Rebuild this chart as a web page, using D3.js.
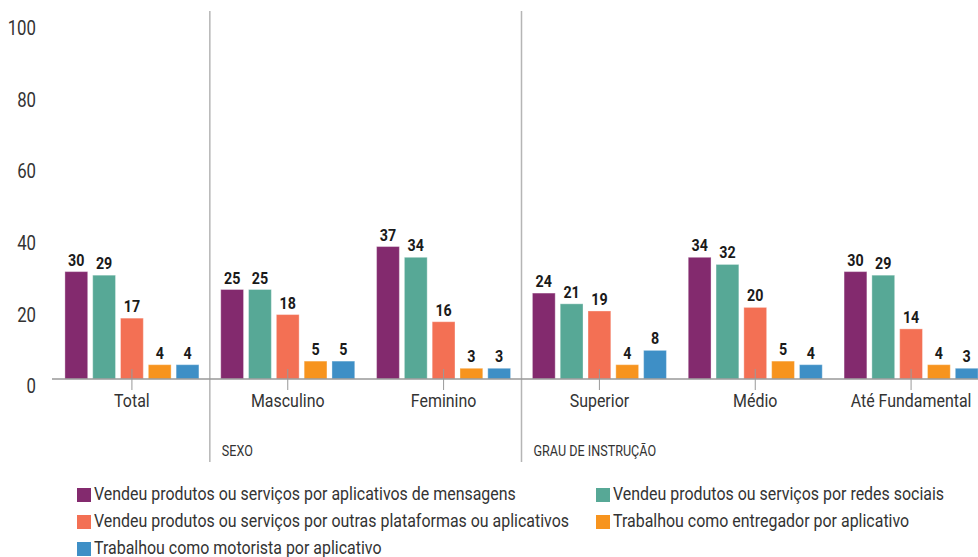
<!DOCTYPE html>
<html>
<head>
<meta charset="utf-8">
<script src="https://cdn.jsdelivr.net/npm/d3@7"></script>
<style>
  html, body { margin: 0; padding: 0; background: #fff; }
  svg { display: block; font-family: Roboto, "DejaVu Sans Condensed", sans-serif; }
</style>
</head>
<body>
<svg id="chart" width="978" height="557"></svg>
<script>
// Categories along the x axis
const categories = ["Total", "Masculino", "Feminino", "Superior", "Médio", "Até Fundamental"];

// Series names (legend order)
const seriesNames = [
  "Vendeu produtos ou serviços por aplicativos de mensagens",
  "Vendeu produtos ou serviços por redes sociais",
  "Vendeu produtos ou serviços por outras plataformas ou aplicativos",
  "Trabalhou como entregador por aplicativo",
  "Trabalhou como motorista por aplicativo"
];

// Values per series, one per category (%)
const mensagens    = [30, 25, 37, 24, 34, 30];
const redesSociais = [29, 25, 34, 21, 32, 29];
const outras       = [17, 18, 16, 19, 20, 14];
const entregador   = [4, 5, 3, 4, 5, 4];
const motorista    = [4, 5, 3, 8, 4, 3];

const seriesValues = [mensagens, redesSociais, outras, entregador, motorista];
const seriesColors = ["#832a6e", "#57a896", "#f37054", "#f7941e", "#3e8fc6"];

const yTicks = [0, 20, 40, 60, 80, 100];

// Category groups: label and first category index
const groups = [
  { label: "SEXO", start: 1 },
  { label: "GRAU DE INSTRUÇÃO", start: 3 }
];

// Horizontal condensing applied to every text, giving a narrow typeface look
const CONDENSE = 0.84;

const svg = d3.select("#chart");

// Places a condensed text at (x, y)
function placeText(sel, xf, yf) {
  sel.attr("x", 0).attr("y", 0)
    .attr("transform", (d, i) => `translate(${xf(d, i)},${yf(d, i)}) scale(${CONDENSE},1)`);
  return sel;
}

const x0 = d3.scaleBand()
  .domain(categories)
  .range([54, 989])
  .paddingInner(0.14)
  .paddingOuter(0.07);

const x1 = d3.scaleBand()
  .domain(d3.range(seriesNames.length))
  .range([0, x0.bandwidth()])
  .paddingInner(0.18);

const y = d3.scaleLinear().domain([0, 100]).range([379, 21]);

// Y axis labels (no line)
svg.append("g")
  .selectAll("text")
  .data(yTicks)
  .join("text")
  .call(placeText, () => 36, d => y(d) + 9)
  .attr("text-anchor", "end")
  .attr("dominant-baseline", "middle")
  .attr("font-size", 20)
  .attr("fill", "#333")
  .text(d => d);

// Group separators
const step = x0.step();
groups.forEach(g => {
  const xs = x0(categories[g.start]) - x0.paddingInner() * step / 2;
  svg.append("line")
    .attr("x1", xs).attr("x2", xs)
    .attr("y1", 11).attr("y2", 462)
    .attr("stroke", "#b5b5b5")
    .attr("stroke-width", 1.5);
  svg.append("text")
    .datum(g)
    .call(placeText, () => xs + 12, () => 452)
    .attr("dominant-baseline", "middle")
    .attr("font-size", 15)
    .attr("fill", "#333")
    .text(g.label);
});

// Bars
const flat = [];
categories.forEach((c, ci) => {
  seriesValues.forEach((vals, si) => {
    flat.push({ cat: c, si, v: vals[ci] });
  });
});

svg.append("g")
  .selectAll("rect")
  .data(flat)
  .join("rect")
  .attr("x", d => x0(d.cat) + x1(d.si))
  .attr("y", d => y(d.v))
  .attr("width", x1.bandwidth())
  .attr("height", d => y(0) - y(d.v))
  .attr("fill", d => seriesColors[d.si])
  .attr("stroke", "rgba(255,255,255,0.35)")
  .attr("stroke-width", 1);

// Value labels
svg.append("g")
  .selectAll("text")
  .data(flat)
  .join("text")
  .call(placeText, d => x0(d.cat) + x1(d.si) + x1.bandwidth() / 2, d => y(d.v) - 6)
  .attr("text-anchor", "middle")
  .attr("font-size", 17)
  .attr("font-weight", "bold")
  .attr("fill", "#1a1a1a")
  .text(d => d.v);

// X axis baseline
svg.append("line")
  .attr("x1", 52).attr("x2", 978)
  .attr("y1", y(0)).attr("y2", y(0))
  .attr("stroke", "#999")
  .attr("stroke-width", 1.5);

// Category ticks and labels
const xAxis = svg.append("g");
xAxis.selectAll("line")
  .data(categories)
  .join("line")
  .attr("x1", d => x0(d) + x0.bandwidth() / 2)
  .attr("x2", d => x0(d) + x0.bandwidth() / 2)
  .attr("y1", y(0) - 10)
  .attr("y2", y(0) + 11)
  .attr("stroke", "#999")
  .attr("stroke-width", 1);
xAxis.selectAll("text")
  .data(categories)
  .join("text")
  .call(placeText, d => x0(d) + x0.bandwidth() / 2, () => 402)
  .attr("text-anchor", "middle")
  .attr("dominant-baseline", "middle")
  .attr("font-size", 19)
  .attr("fill", "#333")
  .text(d => d);

// Legend
const legendPos = [
  { x: 77, y: 495 }, { x: 596, y: 495 },
  { x: 77, y: 522 }, { x: 596, y: 522 },
  { x: 77, y: 549 }
];
const legend = svg.append("g")
  .selectAll("g")
  .data(seriesNames)
  .join("g")
  .attr("transform", (d, i) => `translate(${legendPos[i].x},${legendPos[i].y})`);
legend.append("rect")
  .attr("x", 0).attr("y", -7)
  .attr("width", 14).attr("height", 14)
  .attr("fill", (d, i) => seriesColors[i]);
legend.append("text")
  .call(placeText, () => 17, () => 0)
  .attr("dominant-baseline", "middle")
  .attr("font-size", 19)
  .attr("fill", "#333")
  .text(d => d);
</script>
</body>
</html>
